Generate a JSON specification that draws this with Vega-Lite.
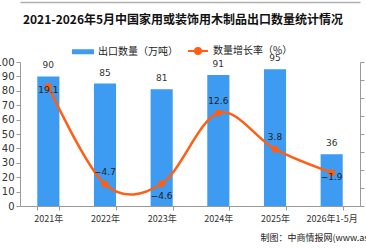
{
  "$schema": "https://vega.github.io/schema/vega-lite/v6.json",
  "width": 340,
  "height": 144,
  "autosize": {"type": "none"},
  "padding": {"left": 20, "top": 62, "right": 6, "bottom": 42},
  "background": "#ffffff",
  "config": {
    "font": "Noto Sans CJK SC",
    "view": {"stroke": null},
    "axis": {"domainColor": "#9a9a9a", "tickColor": "#9a9a9a", "labelColor": "#333333", "grid": false}
  },
  "title": {
    "text": "2021-2026年5月中国家用或装饰用木制品出口数量统计情况",
    "font": "Noto Sans CJK SC",
    "fontSize": 12,
    "fontWeight": "bold",
    "color": "#111111",
    "anchor": "middle",
    "frame": "group",
    "dx": -7,
    "dy": 3,
    "offset": -22
  },
  "data": {
    "values": [
      {"period": "2021年", "qty": 90, "rate": 19.1},
      {"period": "2022年", "qty": 85, "rate": -4.7},
      {"period": "2023年", "qty": 81, "rate": -4.6},
      {"period": "2024年", "qty": 91, "rate": 12.6},
      {"period": "2025年", "qty": 95, "rate": 3.8},
      {"period": "2026年1-5月", "qty": 36, "rate": -1.9}
    ]
  },
  "encoding": {
    "x": {
      "field": "period",
      "type": "ordinal",
      "sort": null,
      "scale": {"paddingInner": 0.61, "paddingOuter": 0.305}
    }
  },
  "layer": [
    {
      "encoding": {
        "x": {
          "field": "period",
          "type": "ordinal",
          "sort": null,
          "axis": {
            "orient": "bottom",
            "labelAngle": 0,
            "labelFontSize": 9,
            "labelPadding": 4,
            "tickBand": "extent",
            "tickSize": 4,
            "title": "制图：中商情报网(www.askci.com)",
            "titleFontSize": 9,
            "titleFontWeight": "normal",
            "titleColor": "#222222",
            "titleAlign": "left",
            "titleAnchor": null,
            "titleBaseline": "middle",
            "titleX": 240,
            "titleY": 31
          }
        },
        "y": {
          "field": "qty",
          "type": "quantitative",
          "scale": {"domain": [0, 100], "nice": false},
          "axis": {
            "orient": "left",
            "title": null,
            "values": [0, 10, 20, 30, 40, 50, 60, 70, 80, 90, 100],
            "labelOverlap": false,
            "labelFontSize": 10,
            "labelFont": "DejaVu Sans",
            "labelPadding": 2,
            "tickSize": 4
          }
        }
      },
      "layer": [
        {
          "mark": {"type": "bar"},
          "encoding": {
            "color": {
              "datum": "出口数量（万吨）",
              "type": "nominal",
              "scale": {
                "domain": ["出口数量（万吨）", "数量增长率（%）"],
                "range": ["#3d9bf2", "#ff5f14"]
              },
              "legend": {
                "orient": "none",
                "legendX": 52,
                "legendY": -22,
                "direction": "horizontal",
                "title": null,
                "labelFontSize": 10,
                "labelFont": "Noto Sans CJK SC",
                "labelColor": "#222222",
                "labelOffset": 4,
                "columnPadding": 6,
                "symbolSize": 400,
                "encode": {
                  "symbols": {
                    "update": {
                      "shape": {"signal": "datum.value === '出口数量（万吨）' ? 'M-1,-0.15H1V0.15H-1Z' : 'M-1,0H1M0.3,0A0.3,0.3,0,1,1,-0.3,0A0.3,0.3,0,1,1,0.3,0Z'"},
                      "fill": {"signal": "scale('color', datum.value)"},
                      "stroke": {"signal": "datum.value === '出口数量（万吨）' ? 'transparent' : scale('color', datum.value)"},
                      "strokeWidth": {"value": 2},
                      "opacity": {"value": 1},
                      "fillOpacity": {"value": 1}
                    }
                  }
                }
              }
            }
          }
        },
        {
          "mark": {"type": "text", "baseline": "bottom", "dy": -6, "fontSize": 9, "font": "DejaVu Sans", "color": "#333333"},
          "encoding": {
            "text": {"field": "qty", "type": "quantitative"}
          }
        }
      ]
    },
    {
      "encoding": {
        "x": {
          "field": "period",
          "type": "ordinal",
          "sort": null,
          "axis": {"orient": "top", "offset": 60, "labels": false, "ticks": false, "title": null, "domainColor": "#b0b0b0", "domainWidth": 1.5}
        },
        "y": {
          "field": "rate",
          "type": "quantitative",
          "scale": {"domain": [-10, 25], "nice": false, "zero": false},
          "axis": {
            "orient": "right",
            "title": null,
            "labels": false,
            "tickSize": 4,
            "values": [-10, -5.625, -1.25, 3.125, 7.5, 11.875, 16.25, 20.625, 25]
          }
        }
      },
      "layer": [
        {
          "mark": {
            "type": "line",
            "interpolate": "cardinal",
            "tension": 0,
            "strokeWidth": 2.5,
            "point": {"filled": true, "size": 45}
          },
          "encoding": {
            "color": {"datum": "数量增长率（%）", "type": "nominal"}
          }
        },
        {
          "transform": [{"filter": "datum.period === '2022年' || datum.period === '2024年' || datum.period === '2025年'"}],
          "mark": {"type": "text", "baseline": "middle", "dy": -12, "fontSize": 9, "font": "DejaVu Sans", "color": "#222222"},
          "encoding": {
            "text": {"field": "rate", "type": "quantitative", "format": ".1f"}
          }
        },
        {
          "transform": [{"filter": "datum.period === '2023年'"}],
          "mark": {"type": "text", "baseline": "middle", "dy": 12, "fontSize": 9, "font": "DejaVu Sans", "color": "#222222"},
          "encoding": {
            "text": {"field": "rate", "type": "quantitative", "format": ".1f"}
          }
        },
        {
          "transform": [{"filter": "datum.period === '2021年' || datum.period === '2026年1-5月'"}],
          "mark": {"type": "text", "baseline": "middle", "dy": 4, "fontSize": 9, "font": "DejaVu Sans", "color": "#222222"},
          "encoding": {
            "text": {"field": "rate", "type": "quantitative", "format": ".1f"}
          }
        }
      ]
    }
  ],
  "resolve": {"scale": {"y": "independent"}, "axis": {"x": "independent", "y": "independent"}}
}
